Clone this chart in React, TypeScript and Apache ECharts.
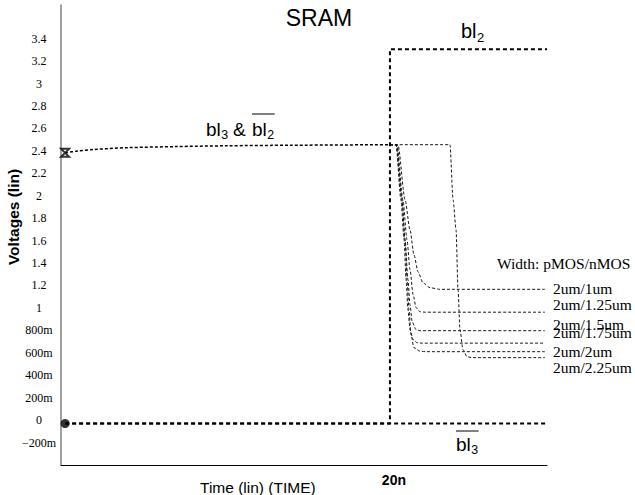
import React, { useEffect, useRef } from 'react';
import * as echarts from 'echarts';

// time in ns, voltage in V
const preTimes = [0.25, 1, 2, 4, 7, 10, 14, 20];
const preVolts = [2.382, 2.398, 2.412, 2.428, 2.438, 2.445, 2.45, 2.455];

const bl3barTimes = [0.25, 29.55];
const bl3barVolts = [-0.03, -0.03];

const bl2Times = [0.25, 20, 20, 29.55];
const bl2Volts = [-0.03, -0.03, 3.305, 3.305];

const curve1um = [[20, 2.455], [20.49, 2.453], [20.92, 1.963], [21.22, 1.696], [21.46, 1.474], [21.71, 1.322], [22.01, 1.224], [22.44, 1.18], [23.04, 1.166], [29.42, 1.166]];
const curve125um = [[20, 2.455], [20.43, 2.453], [20.79, 1.963], [21.04, 1.607], [21.22, 1.34], [21.41, 1.118], [21.59, 1.002], [21.83, 0.966], [22.13, 0.962], [29.42, 0.962]];
const curve15um = [[20, 2.455], [20.37, 2.453], [20.73, 1.963], [20.92, 1.607], [21.1, 1.251], [21.22, 1.028], [21.35, 0.877], [21.59, 0.806], [21.83, 0.797], [29.42, 0.797]];
const curve175um = [[20, 2.455], [20.37, 2.453], [20.67, 1.963], [20.86, 1.607], [20.98, 1.251], [21.1, 0.984], [21.22, 0.806], [21.41, 0.717], [21.65, 0.69], [21.95, 0.686], [29.42, 0.686]];
const curve2um = [[20, 2.455], [20.43, 2.453], [20.73, 1.963], [20.92, 1.607], [21.04, 1.251], [21.16, 0.984], [21.28, 0.761], [21.46, 0.646], [21.83, 0.614], [22.19, 0.61], [29.42, 0.61]];
const curve225um = [[20, 2.455], [23.65, 2.455], [23.84, 1.963], [24.02, 1.696], [24.14, 1.162], [24.26, 0.806], [24.44, 0.628], [24.69, 0.565], [24.99, 0.557], [29.42, 0.557]];

const widthCurves = [curve1um, curve125um, curve15um, curve175um, curve2um, curve225um];
const widthLabels = ['2um/1um', '2um/1.25um', '2um/1.5um', '2um/1.75um', '2um/2um', '2um/2.25um'];
const widthLabelY = [288, 304, 324, 332, 351, 367];

const SERIF = '"Liberation Serif", "Times New Roman", serif';
const SANS = '"Liberation Sans", Arial, sans-serif';

function zip(a: number[], b: number[]) {
  return a.map((v, i) => [v, b[i]]);
}

function fmtY(v: number) {
  const r = Math.round(v * 10) / 10;
  if (r < -0.3 || r > 3.5) return '';
  if (Math.abs(r) >= 1) return String(r);
  if (r === 0) return '0';
  return (r < 0 ? '\u2212' : '') + Math.abs(Math.round(r * 1000)) + 'm';
}

function txt(text: string, x: number, y: number, size: number, font: string, extra: any = {}) {
  return {
    type: 'text',
    x,
    y,
    style: {
      text,
      fontSize: size,
      fontFamily: font,
      fill: '#000',
      textAlign: 'left',
      textVerticalAlign: 'middle',
      ...extra,
    },
  };
}

function line(x1: number, y1: number, x2: number, y2: number) {
  return { type: 'line', shape: { x1, y1, x2, y2 }, style: { stroke: '#000', lineWidth: 1 } };
}

// "bl" with subscript, optional overline; Arial metrics: b .556, l .222
function blLabel(x: number, y: number, size: number, sub: string, over: boolean, overY: number) {
  const w = size * 0.778;
  const subSize = size * 0.65;
  const items: any[] = [txt('bl', x, y, size, SANS), txt(sub, x + w + 0.5, y + size * 0.3, subSize, SANS)];
  if (over) items.push(line(x, overY, x + w + subSize * 0.556 + 1, overY));
  return items;
}

export default function App() {
  const ref = useRef<HTMLDivElement>(null);
  useEffect(() => {
    if (!ref.current) return;
    const chart = echarts.init(ref.current, undefined, { renderer: 'svg' });
    const thin = { color: '#1a1a1a', width: 1, type: [3, 2] as any };
    const thick = { color: '#000', width: 2, type: [4, 3] as any };
    const series: any[] = widthCurves.map((c, i) => ({
      type: 'line',
      name: widthLabels[i],
      data: c,
      showSymbol: false,
      smooth: 0.25,
      smoothMonotone: 'x',
      lineStyle: thin,
      z: 2,
    }));
    series.push(
      { type: 'line', name: 'bl3 & bl2bar', data: zip(preTimes, preVolts), showSymbol: false, smooth: 0.3, lineStyle: { color: '#000', width: 1.5, type: [3, 2] }, z: 3 },
      { type: 'line', name: 'bl3bar', data: zip(bl3barTimes, bl3barVolts), showSymbol: false, lineStyle: thick, z: 4 },
      { type: 'line', name: 'bl2', data: zip(bl2Times, bl2Volts), showSymbol: false, lineStyle: thick, z: 4 },
      {
        type: 'scatter',
        data: [[preTimes[0], preVolts[0]]],
        symbol: 'path://M0,0L10,0L0,10L10,10Z',
        symbolSize: 8,
        itemStyle: { color: '#fff', borderColor: '#000', borderWidth: 2 },
        z: 5,
      },
      {
        type: 'scatter',
        data: [[bl3barTimes[0], bl3barVolts[0]]],
        symbol: 'circle',
        symbolSize: 9,
        itemStyle: { color: '#000' },
        z: 5,
      }
    );

    const vTitle: any = txt('Voltages (lin)', 13, 217, 15.5, SANS, { textAlign: 'center', fontWeight: 'bold' });
    vTitle.rotation = Math.PI / 2;
    const graphics: any[] = [
      txt('SRAM', 319, 18, 23, SANS, { textAlign: 'center' }),
      ...blLabel(461, 31, 20, '2', false, 0),
      ...blLabel(206, 129, 19, '3', false, 0),
      txt('&', 233, 129, 19, SANS),
      ...blLabel(252, 129, 19, '2', true, 114),
      ...blLabel(456, 444, 19, '3', true, 431),
      txt('Time (lin) (TIME)', 200, 487, 15.5, SANS),
      vTitle,
      txt('Width: pMOS/nMOS', 497, 263, 15.5, SERIF),
    ];
    widthLabels.forEach((l, i) => graphics.push(txt(l, 553, widthLabelY[i], 15.5, SERIF)));

    chart.setOption({
      animation: false,
      backgroundColor: '#fff',
      grid: { left: 61, right: 88, top: 5, bottom: 30 },
      xAxis: {
        type: 'value',
        min: 0,
        max: 29.55,
        interval: 20,
        axisLine: { show: true, onZero: false, lineStyle: { color: '#000', width: 1 } },
        axisTick: { show: false },
        splitLine: { show: false },
        axisLabel: {
          showMaxLabel: false,
          margin: 8,
          formatter: (v: number) => (Math.round(v) === 20 ? '20n' : ''),
          fontFamily: SANS,
          fontWeight: 'bold',
          fontSize: 14,
          color: '#000',
          padding: [0, 0, 0, 8],
        },
      },
      yAxis: {
        type: 'value',
        min: -0.4,
        max: 3.7,
        interval: 0.2,
        axisLine: { show: true, onZero: false, lineStyle: { color: '#808080', width: 1.5 } },
        axisTick: { show: false },
        splitLine: { show: false },
        axisLabel: {
          formatter: fmtY,
          align: 'center',
          margin: 22,
          fontFamily: SERIF,
          fontSize: 12,
          color: '#000',
          showMaxLabel: false,
        },
      },
      series,
      graphic: graphics,
    });
    return () => chart.dispose();
  }, []);
  return <div ref={ref} style={{ width: 635, height: 495, position: 'fixed', left: 0, top: 0 }} />;
}
